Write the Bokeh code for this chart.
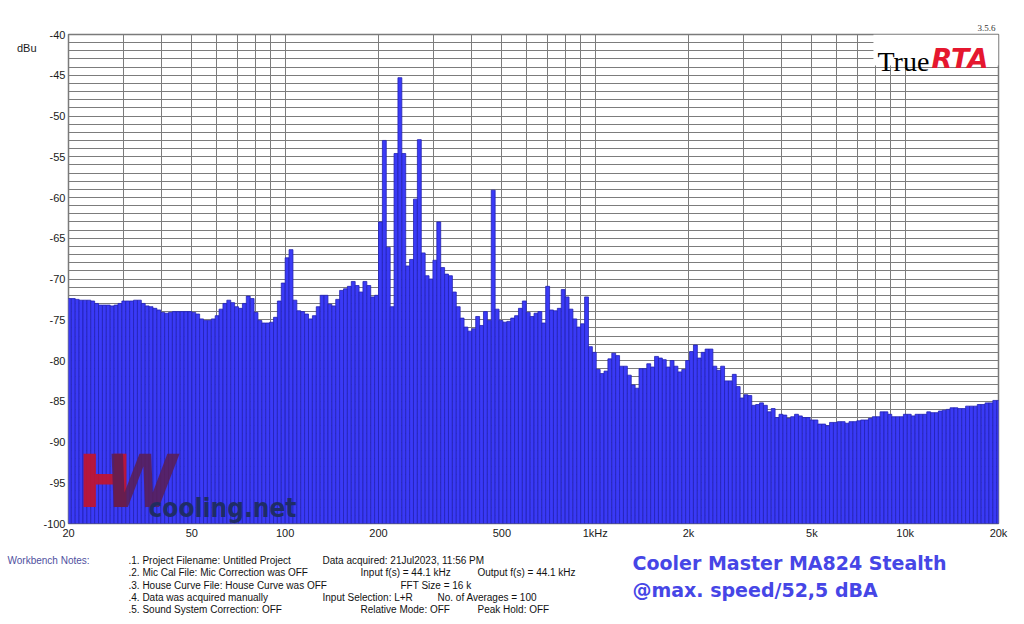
from bokeh.plotting import figure
from bokeh.models import (Range1d, FixedTicker, Label, BoxAnnotation,
                          LinearAxis, LogAxis)
from bokeh.layouts import column
from bokeh.embed import file_html
from bokeh.resources import INLINE

# ---- data: 1/24-octave RTA band levels (dBu), bands referenced to 200 Hz ----
lv_20_100 = [-72.4, -72.4, -72.5, -72.6, -72.6, -72.6, -72.7, -73.0, -73.2, -73.2,
             -73.2, -73.3, -73.2, -73.0, -72.7, -72.7, -72.7, -72.6, -72.6, -73.0,
             -73.3, -73.4, -73.6, -73.8, -74.1, -74.2, -74.1, -74.0, -74.0, -74.0,
             -74.0, -74.0, -74.1, -74.3, -74.9, -75.1, -75.1, -74.9, -74.5, -73.7,
             -73.0, -72.6, -72.9, -73.4, -73.6, -73.0, -72.1, -72.4, -74.1, -75.1,
             -75.4, -75.4, -75.3, -74.7, -72.7, -70.5]
lv_100_200 = [-67.4, -66.4, -72.6, -73.9, -74.0, -74.3, -74.9, -74.5, -73.4, -72.0,
              -72.0, -73.1, -73.3, -72.5, -71.4, -71.2, -70.9, -70.3, -70.8, -71.6,
              -70.3, -70.8, -72.2, -72.0]
lv_200_400 = [-63.0, -53.0, -66.1, -73.4, -54.6, -45.3, -54.6, -68.4, -67.6, -60.2,
              -52.9, -66.8, -69.6, -70.0, -67.7, -63.0, -68.6, -69.4, -69.6, -71.6,
              -73.4, -74.8, -75.9, -76.4]
lv_400_800 = [-76.1, -74.6, -75.7, -74.0, -75.1, -59.1, -73.7, -75.1, -75.3, -75.2,
              -74.8, -74.5, -73.6, -72.7, -74.1, -74.6, -74.2, -74.0, -75.4, -70.9,
              -73.8, -73.9, -73.6, -71.3]
lv_800_1600 = [-72.2, -73.7, -74.9, -75.9, -75.5, -72.2, -78.3, -79.0, -81.1, -81.6,
               -81.3, -79.8, -79.1, -79.4, -80.7, -80.7, -81.8, -83.0, -83.4, -81.0,
               -81.0, -80.4, -80.8, -79.5]
lv_1k6_3k2 = [-79.7, -79.9, -80.8, -80.0, -80.7, -81.4, -81.1, -80.0, -78.9, -78.1,
              -79.7, -79.0, -78.6, -78.6, -80.7, -81.2, -80.7, -82.5, -82.5, -81.7,
              -83.2, -84.6, -84.2, -84.3]
lv_3k2_6k4 = [-85.5, -85.4, -85.2, -85.5, -86.3, -85.9, -87.0, -86.6, -86.7, -87.1,
              -86.9, -86.6, -86.8, -87.0, -87.0, -87.3, -87.3, -87.8, -87.8, -88.0,
              -87.6, -87.6, -87.5, -87.5]
lv_6k4_12k8 = [-87.7, -87.5, -87.5, -87.4, -87.3, -87.3, -87.1, -86.9, -86.9, -86.3,
               -86.3, -86.6, -86.9, -86.9, -86.9, -86.6, -86.6, -86.8, -86.6, -86.6,
               -86.6, -86.3, -86.4, -86.4]
lv_12k8_20k = [-86.2, -86.1, -86.0, -85.8, -85.8, -85.9, -85.9, -85.6, -85.6, -85.6,
               -85.4, -85.4, -85.2, -85.2, -84.9, -84.9]

levels = (lv_20_100 + lv_100_200 + lv_200_400 + lv_400_800 + lv_800_1600 +
          lv_1k6_3k2 + lv_3k2_6k4 + lv_6k4_12k8 + lv_12k8_20k)

# band edges of the 1/24-octave analyser (categories of the x axis)
band_ref_hz = 200.0
band_ref_index = 80
bands_per_octave = 24
lo = [band_ref_hz * 2 ** ((n - band_ref_index) / bands_per_octave) for n in range(len(levels))]
hi = [band_ref_hz * 2 ** ((n + 1 - band_ref_index) / bands_per_octave) for n in range(len(levels))]

x_label_ticks = [20, 50, 100, 200, 500, 1000, 2000, 5000, 10000, 20000]
x_label_text = ["20", "50", "100", "200", "500", "1kHz", "2k", "5k", "10k", "20k"]
x_grid_ticks = [m * d for d in (10, 100, 1000, 10000) for m in range(1, 10)
                if 20 <= m * d <= 20000]
y_label_ticks = list(range(-40, -101, -5))
y_grid_ticks = list(range(-100, -39))

notes_col1 = [".1. Project Filename: Untitled Project",
              ".2. Mic Cal File: Mic Correction was OFF",
              ".3. House Curve File: House Curve was OFF",
              ".4. Data was acquired manually",
              ".5. Sound System Correction: OFF"]
title_lines = ["Cooler Master MA824 Stealth", "@max. speed/52,5 dBA"]

FONT = "Liberation Sans"
W = 1016
H_MAIN = 545
H_FOOT = 71
FRAME_LEFT, FRAME_RIGHT, FRAME_TOP, FRAME_BOTTOM = 68, 998, 34, 523

# ---- main chart ----
p = figure(width=W, height=H_MAIN, x_axis_type="log", title=None,
           x_range=Range1d(20, 20000), y_range=Range1d(-100, -40),
           output_backend="svg", toolbar_location=None,
           min_border_left=FRAME_LEFT, min_border_right=W - FRAME_RIGHT,
           min_border_top=FRAME_TOP, min_border_bottom=H_MAIN - FRAME_BOTTOM)
p.frame_align = False
p.background_fill_color = "white"
p.border_fill_color = "white"
p.outline_line_color = "#7a7a7a"
p.outline_line_width = 1.5

GRID = "#7c7c7c"
p.xgrid.ticker = FixedTicker(ticks=x_grid_ticks)
p.ygrid.ticker = FixedTicker(ticks=y_grid_ticks)
p.xgrid.grid_line_color = GRID
p.ygrid.grid_line_color = GRID
p.xgrid.grid_line_width = 1
p.ygrid.grid_line_width = 1


def style_axis(ax, size="11px", font=FONT, standoff=3):
    ax.axis_line_color = None
    ax.major_tick_line_color = None
    ax.minor_tick_line_color = None
    ax.major_tick_out = 0
    ax.major_tick_in = 0
    ax.minor_tick_out = 0
    ax.minor_tick_in = 0
    ax.major_label_text_font = font
    ax.major_label_text_font_size = size
    ax.major_label_text_color = "#1a1a1a"
    ax.major_label_standoff = standoff


for ax in (p.xaxis[0], p.yaxis[0]):
    style_axis(ax)

p.xaxis.ticker = FixedTicker(ticks=x_label_ticks)
p.xaxis.major_label_overrides = {t: s for t, s in zip(x_label_ticks, x_label_text)}
p.yaxis.ticker = FixedTicker(ticks=y_label_ticks)
p.yaxis.major_label_overrides = {t: str(t) for t in y_label_ticks}

# unit label "dBu" as an outer left axis label near the top
unit_axis = LinearAxis(ticker=FixedTicker(ticks=[-41.6]),
                       major_label_overrides={-41.6: "dBu"})
style_axis(unit_axis, standoff=4)
p.add_layout(unit_axis, "left")

# version tag "3.5.6" above the frame, top right
ver_axis = LogAxis(ticker=FixedTicker(ticks=[18300]),
                   major_label_overrides={18300: "3.5.6"})
style_axis(ver_axis, size="9px", font="Liberation Serif", standoff=4)
ver_axis.major_label_text_color = "#333333"
p.add_layout(ver_axis, "above")

p.quad(left=lo, right=hi, bottom=-100, top=levels,
       fill_color="#3a3af6", line_color="#2222b4", line_width=0.8)


def lbl(fig, text, X, Y, size, color="#111111", font=FONT, style="normal",
        align="left", baseline="middle", alpha=1.0, screen=True):
    if screen:
        kw = dict(x=X - FRAME_LEFT, y=FRAME_BOTTOM - Y, x_units="screen", y_units="screen")
    else:
        kw = dict(x=X, y=Y)
    fig.add_layout(Label(text=text, text_font=font, text_font_size=f"{size}px",
                         text_font_style=style, text_color=color,
                         text_align=align, text_baseline=baseline,
                         text_alpha=alpha, **kw))


# watermark logo (kept fully inside the frame)
LOGO_FONT = "Liberation Sans Narrow, DejaVu Sans Condensed"
lbl(p, "H", 77, 523, 73, color="#c4142a", font=LOGO_FONT, style="bold",
    baseline="bottom", alpha=0.9)
lbl(p, "W", 104, 523, 73, color="#5a1f52", font=LOGO_FONT, style="bold italic",
    baseline="bottom", alpha=0.85)
lbl(p, "cooling.net", 148, 522, 26, color="#1e2d5e", font=LOGO_FONT, style="bold",
    baseline="bottom", alpha=0.95)

# TrueRTA logo
p.add_layout(BoxAnnotation(left=7900, right=20000, top=-40, bottom=-43.8,
                           fill_color="white", fill_alpha=1.0, line_color=None))
lbl(p, "True", 877, 61, 28, color="#000000", font="Liberation Serif", baseline="alphabetic")
lbl(p, "RTA", 931, 58, 27, color="#e5172f", font="DejaVu Sans", style="bold italic",
    baseline="alphabetic")

# ---- footer (notes and caption) ----
f = figure(width=W, height=H_FOOT, title=None, x_range=Range1d(0, W),
           y_range=Range1d(H_MAIN + H_FOOT, H_MAIN),
           x_axis_location=None, y_axis_location=None,
           output_backend="svg", toolbar_location=None,
           min_border=0, min_border_left=0, min_border_right=0,
           min_border_top=0, min_border_bottom=0)
f.frame_align = False
f.outline_line_color = None
f.background_fill_color = "white"
f.border_fill_color = "white"
f.grid.visible = False

lbl(f, "Workbench Notes:", 7, 560, 10, color="#5050a0", screen=False)
for i, t in enumerate(notes_col1):
    lbl(f, t, 128, 560 + i * 12.3, 10, screen=False)
lbl(f, "Data acquired: 21Jul2023, 11:56 PM", 322, 560, 10, screen=False)
lbl(f, "Input f(s) = 44.1 kHz", 360, 572.3, 10, screen=False)
lbl(f, "Output f(s) = 44.1 kHz", 477, 572.3, 10, screen=False)
lbl(f, "FFT Size = 16 k", 400, 584.6, 10, screen=False)
lbl(f, "Input Selection: L+R", 322, 596.9, 10, screen=False)
lbl(f, "No. of Averages = 100", 437, 596.9, 10, screen=False)
lbl(f, "Relative Mode:  OFF", 360, 609.2, 10, screen=False)
lbl(f, "Peak Hold: OFF", 477, 609.2, 10, screen=False)

lbl(f, title_lines[0], 632, 562.5, 19, color="#4646e6", font="DejaVu Sans",
    style="bold", screen=False)
lbl(f, title_lines[1], 632, 589.5, 19, color="#4646e6", font="DejaVu Sans",
    style="bold", screen=False)

layout = column(p, f, spacing=0)
open("out.html", "w").write(file_html(layout, INLINE))
